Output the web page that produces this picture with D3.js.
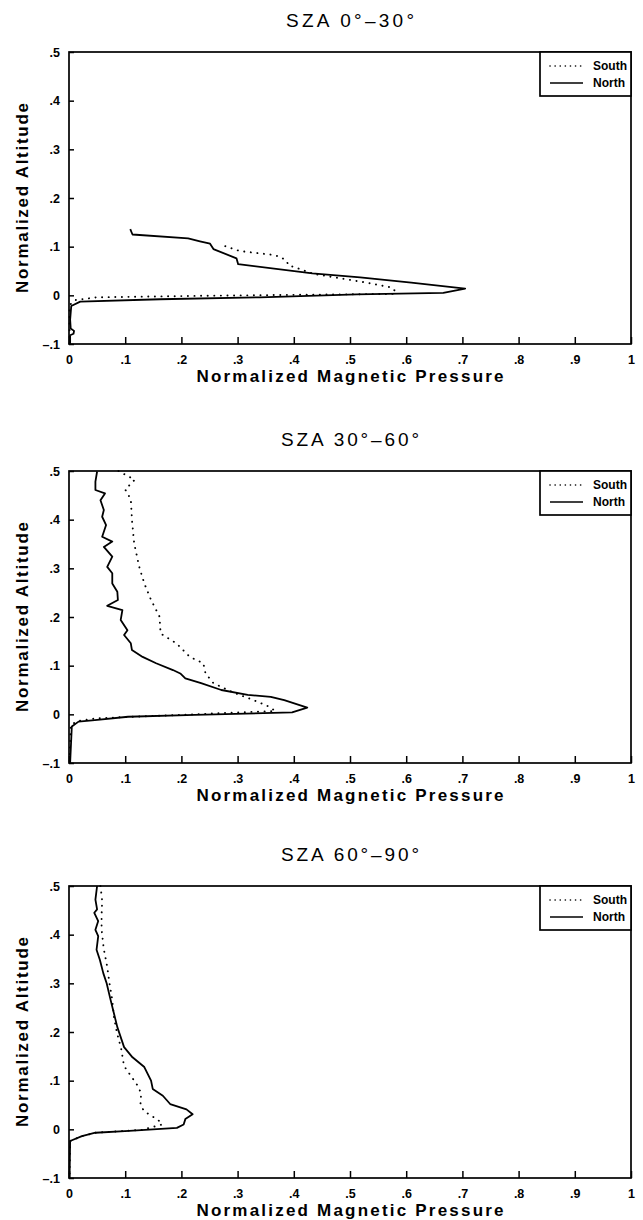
<!DOCTYPE html>
<html>
<head>
<meta charset="utf-8">
<script src="https://cdn.jsdelivr.net/npm/d3@7"></script>
<style>
  body { margin: 0; background: #fff; }
  text { font-family: "Liberation Sans", Arial, sans-serif; fill: #000; }
</style>
</head>
<body>
<svg id="chart" width="643" height="1220"></svg>
<script>
//
// Data  ([normalized magnetic pressure, normalized altitude])
//

var titles = ['SZA 0°–30°', 'SZA 30°–60°', 'SZA 60°–90°']
var seriesNames = ['South', 'North']
var xTicks = [0, .1, .2, .3, .4, .5, .6, .7, .8, .9, 1]
var yTicks = [-.1, 0, .1, .2, .3, .4, .5]

var north1 = [[0.109,0.136],[0.113,0.125],[0.212,0.117],[0.233,0.111],[0.251,0.106],[0.257,0.095],
  [0.298,0.076],[0.301,0.064],[0.433,0.045],[0.518,0.037],[0.609,0.026],[0.705,0.014],[0.666,0.005],
  [0.512,0.002],[0.34,-0.004],[0.162,-0.008],[0.02,-0.013],[0.004,-0.022],[0.002,-0.05],[0.003,-0.068],
  [0.009,-0.073],[0.008,-0.079],[0.002,-0.082],[0.002,-0.1]]
var south1 = [[0.278,0.101],[0.304,0.091],[0.364,0.083],[0.378,0.078],[0.388,0.069],[0.39,0.062],
  [0.411,0.054],[0.435,0.044],[0.53,0.026],[0.574,0.016],[0.582,0.007],[0.577,0.003],[0.4,0.001],
  [0.233,-0.001],[0.05,-0.004],[0.01,-0.01],[0.003,-0.018],[0.001,-0.03],[0.001,-0.1]]

var north2 = [[0.050,0.499],[0.047,0.478],[0.047,0.461],[0.064,0.454],[0.056,0.44],[0.062,0.42],
  [0.059,0.406],[0.066,0.389],[0.059,0.365],[0.077,0.355],[0.062,0.344],[0.077,0.324],[0.068,0.303],
  [0.077,0.29],[0.077,0.269],[0.086,0.252],[0.087,0.235],[0.068,0.223],[0.095,0.214],[0.092,0.194],
  [0.104,0.173],[0.098,0.163],[0.110,0.146],[0.112,0.132],[0.131,0.118],[0.155,0.105],[0.185,0.091],
  [0.198,0.084],[0.207,0.074],[0.235,0.064],[0.271,0.05],[0.318,0.04],[0.359,0.036],[0.383,0.029],
  [0.424,0.014],[0.397,0.004],[0.224,-0.001],[0.105,-0.005],[0.046,-0.012],[0.017,-0.015],
  [0.005,-0.025],[0.002,-0.1]]
var south2 = [[0.088,0.5],[0.117,0.482],[0.100,0.462],[0.11,0.442],[0.112,0.40],[0.116,0.351],
  [0.125,0.303],[0.134,0.269],[0.146,0.235],[0.161,0.201],[0.163,0.166],[0.191,0.146],[0.203,0.132],
  [0.215,0.118],[0.239,0.105],[0.243,0.084],[0.257,0.064],[0.292,0.045],[0.322,0.032],[0.352,0.018],
  [0.367,0.007],[0.2,-0.001],[0.05,-0.008],[0.015,-0.014],[0.003,-0.022],[0.001,-0.1]]

var north3 = [[0.050,0.5],[0.047,0.472],[0.050,0.452],[0.045,0.445],[0.052,0.428],[0.047,0.41],
  [0.052,0.397],[0.049,0.369],[0.055,0.348],[0.061,0.321],[0.067,0.3],[0.074,0.266],[0.080,0.238],
  [0.086,0.21],[0.098,0.169],[0.113,0.148],[0.134,0.128],[0.146,0.1],[0.149,0.083],[0.167,0.069],
  [0.180,0.052],[0.209,0.041],[0.220,0.031],[0.207,0.021],[0.204,0.01],[0.192,0.003],[0.107,-0.003],
  [0.047,-0.007],[0.023,-0.014],[0.002,-0.024],[0.001,-0.1]]
var south3 = [[0.056,0.5],[0.059,0.47],[0.058,0.44],[0.058,0.41],[0.062,0.37],[0.068,0.334],
  [0.072,0.3],[0.077,0.266],[0.080,0.231],[0.085,0.2],[0.093,0.165],[0.098,0.13],[0.110,0.11],
  [0.122,0.09],[0.128,0.075],[0.128,0.062],[0.127,0.05],[0.134,0.037],[0.146,0.028],[0.158,0.02],
  [0.166,0.01],[0.13,-0.001],[0.047,-0.007],[0.023,-0.014],[0.002,-0.024],[0.001,-0.1]]

var panels = [
  { title: titles[0], south: south1, north: north1 },
  { title: titles[1], south: south2, north: north2 },
  { title: titles[2], south: south3, north: north3 }
]

//
// Layout
//

var left = 69, plotW = 562, plotH = 292
var tops = [52, 471, 886]

var svg = d3.select('#chart')

function fmt(v) {
  if (v === 0) return '0'
  if (v === 1) return '1'
  var s = d3.format('.1f')(Math.abs(v)).replace(/^0/, '')
  return v < 0 ? '–' + s : s
}

panels.forEach(function(p, i) {
  var top = tops[i]
  var g = svg.append('g').attr('transform', 'translate(' + left + ',' + top + ')')

  var x = d3.scaleLinear().domain([0, 1]).range([0, plotW])
  var y = d3.scaleLinear().domain([-0.1, 0.5]).range([plotH, 0])

  // title
  g.append('text')
    .attr('x', plotW / 2).attr('y', -25)
    .attr('text-anchor', 'middle')
    .attr('font-size', 19)
    .attr('textLength', i === 0 ? 128 : 138).attr('lengthAdjust', 'spacing')
    .text(p.title)

  // axes (inward ticks)
  var xAxis = g.append('g')
    .attr('transform', 'translate(0,' + plotH + ')')
    .call(d3.axisBottom(x).tickValues(xTicks).tickSize(-7).tickPadding(11).tickFormat(fmt))
  var yAxis = g.append('g')
    .call(d3.axisLeft(y).tickValues(yTicks).tickSize(-5).tickPadding(9).tickFormat(fmt))
  ;[xAxis, yAxis].forEach(function(a) {
    a.select('.domain').remove()
    a.selectAll('line').attr('stroke', '#000').attr('stroke-width', 1.5)
    a.selectAll('text')
      .attr('font-family', '"Liberation Sans", Arial, sans-serif')
      .attr('font-size', 12.5).attr('font-weight', 'bold').attr('fill', '#000')
  })

  // frame
  g.append('rect')
    .attr('width', plotW).attr('height', plotH)
    .attr('fill', 'none').attr('stroke', '#000').attr('stroke-width', 1.7)

  // axis titles
  g.append('text')
    .attr('x', plotW / 2).attr('y', plotH + 38)
    .attr('text-anchor', 'middle')
    .attr('font-size', 17).attr('font-weight', 'bold')
    .attr('textLength', 307).attr('lengthAdjust', 'spacing')
    .text('Normalized  Magnetic  Pressure')
  g.append('text')
    .attr('transform', 'translate(' + (-41) + ',' + (plotH / 2) + ') rotate(-90)')
    .attr('text-anchor', 'middle')
    .attr('font-size', 17).attr('font-weight', 'bold')
    .attr('textLength', 190).attr('lengthAdjust', 'spacing')
    .text('Normalized  Altitude')

  // curves
  var line = d3.line().x(function(d) { return x(d[0]) }).y(function(d) { return y(d[1]) })
  g.append('path').datum(p.south)
    .attr('d', line).attr('fill', 'none').attr('stroke', '#000')
    .attr('stroke-width', 1.9).attr('stroke-linecap', 'round')
    .attr('stroke-dasharray', '0.1,6.5')
  g.append('path').datum(p.north)
    .attr('d', line).attr('fill', 'none').attr('stroke', '#000')
    .attr('stroke-width', 1.8).attr('stroke-linejoin', 'round')

  // legend
  var lw = 91, lh = 44
  var lg = g.append('g').attr('transform', 'translate(' + (plotW - lw) + ',0)')
  lg.append('rect').attr('width', lw).attr('height', lh)
    .attr('fill', '#fff').attr('stroke', '#000').attr('stroke-width', 1.7)
  seriesNames.forEach(function(name, k) {
    var ly = k === 0 ? 14 : 31
    lg.append('line')
      .attr('x1', 10).attr('x2', 43).attr('y1', ly).attr('y2', ly)
      .attr('stroke', '#000').attr('stroke-width', k === 0 ? 1.6 : 1.4)
      .attr('stroke-linecap', k === 0 ? 'round' : 'butt')
      .attr('stroke-dasharray', k === 0 ? '0.1,5' : null)
    lg.append('text')
      .attr('x', 53).attr('y', ly).attr('dy', '0.35em')
      .attr('font-size', 12).attr('font-weight', 'bold')
      .text(name)
  })
})
</script>
</body>
</html>
